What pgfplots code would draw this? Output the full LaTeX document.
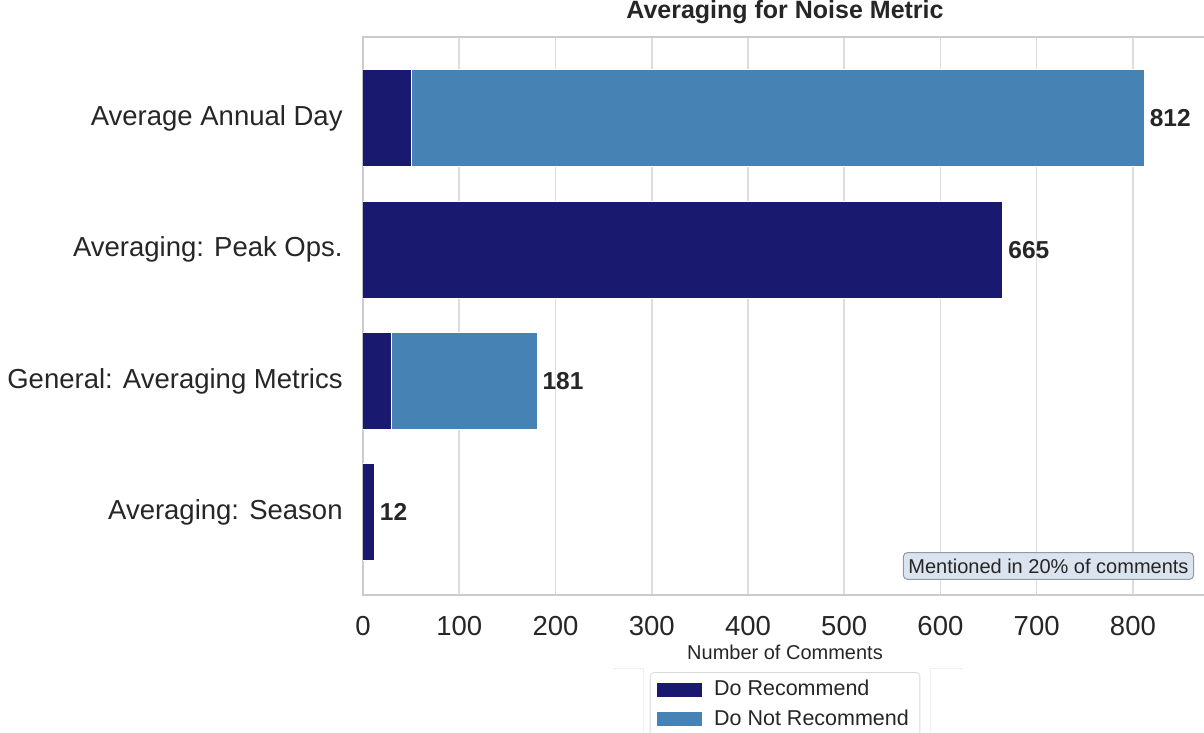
\documentclass[border=0pt]{standalone}
\usepackage{pgfplots}
\pgfplotsset{compat=1.18}
\usepackage{fontspec}
\setmainfont{Liberation Sans}
\definecolor{rec}{HTML}{191970}
\definecolor{notrec}{HTML}{4682B4}
\definecolor{txt}{HTML}{262626}
\definecolor{spine}{HTML}{CCCCCC}
\definecolor{gridc}{HTML}{DDDDDD}
\definecolor{annfill}{HTML}{DBE3EE}
\definecolor{annedge}{HTML}{8E9AA6}
\pgfplotstableread{
cat rec notrec
0 50 762
1 665 0
2 30 151
3 12 0
}\datatable
\begin{document}
\begin{tikzpicture}
\path[use as bounding box] (-181.5pt,-69pt) rectangle (420.5pt,297.5pt);
\clip (-181.5pt,-69pt) rectangle (420.5pt,297.5pt);
\draw[gray!12, line width=0.5pt] (125pt,-36.5pt) -- (140pt,-36.5pt) -- (140pt,-70pt);
\draw[gray!12, line width=0.5pt] (283.5pt,-70pt) -- (283.5pt,-36.5pt) -- (300pt,-36.5pt);
\begin{axis}[
  scale only axis, width=422pt, height=279pt,
  xbar stacked, bar width=0.74,
  xmin=0, xmax=877, ymin=-0.62, ymax=3.63, y dir=reverse,
  ytick={0,1,2,3},
  yticklabels={Average Annual Day, Averaging: Peak Ops., General: Averaging Metrics, Averaging: Season},
  xtick={0,100,...,800},
  major tick length=0pt,
  xmajorgrids, ymajorgrids=false,
  grid style={gridc, line width=0.8pt},
  axis line style={spine, line width=1pt},
  /pgf/number format/assume math mode=true,
  xticklabel style={font=\fontsize{13.75}{16}\selectfont, text=txt, anchor=base, yshift=-20pt, inner sep=0pt},
  yticklabel style={font=\fontsize{13.75}{16}\selectfont, text=txt, anchor=east, inner sep=0pt, xshift=-10pt},
  title={\bfseries Averaging for Noise Metric},
  title style={at={(axis description cs:0.5,1)}, anchor=base, yshift=3.5pt, inner sep=0pt, font=\fontsize{12.5}{14}\selectfont, text=txt},
  xlabel={Number of Comments},
  xlabel style={at={(axis description cs:0.5,0)}, anchor=base, yshift=-32pt, inner sep=0pt, font=\fontsize{10}{12}\selectfont, text=txt},
  legend style={at={(axis description cs:0.5,-0.138)}, anchor=north, draw=gray!30, rounded corners=2pt, fill=white,
    font=\fontsize{10.75}{13}\selectfont, text=txt, inner xsep=3.5pt, inner ysep=2pt, row sep=1.5pt,
    /tikz/every odd column/.append style={column sep=4pt}},
  legend cell align=left,
  legend image code/.code={\fill[#1, draw=none, sharp corners] (0pt,-3.5pt) rectangle (22.5pt,3.5pt);},
]
\addplot[fill=rec, draw=white, line width=0.5pt] table[x=rec, y=cat] {\datatable};
\addplot[fill=notrec, draw=white, line width=0.5pt] table[x=notrec, y=cat] {\datatable};
\legend{Do Recommend, Do Not Recommend}
\node[anchor=west, inner sep=0pt, xshift=2.5pt, font=\fontsize{12.25}{14}\selectfont\bfseries, text=txt] at (axis cs:812,0) {812};
\node[anchor=west, inner sep=0pt, xshift=2.5pt, font=\fontsize{12.25}{14}\selectfont\bfseries, text=txt] at (axis cs:665,1) {665};
\node[anchor=west, inner sep=0pt, xshift=2.5pt, font=\fontsize{12.25}{14}\selectfont\bfseries, text=txt] at (axis cs:181,2) {181};
\node[anchor=west, inner sep=0pt, xshift=2.5pt, font=\fontsize{12.25}{14}\selectfont\bfseries, text=txt] at (axis cs:12,3) {12};
\node[anchor=east, fill=annfill, draw=annedge, line width=0.5pt, rounded corners=2pt, inner xsep=2.5pt, inner ysep=3pt,
  font=\fontsize{10}{12}\selectfont, text=txt] at (axis description cs:0.9846,0.052) {Mentioned in 20\% of comments};
\end{axis}
\end{tikzpicture}
\end{document}
